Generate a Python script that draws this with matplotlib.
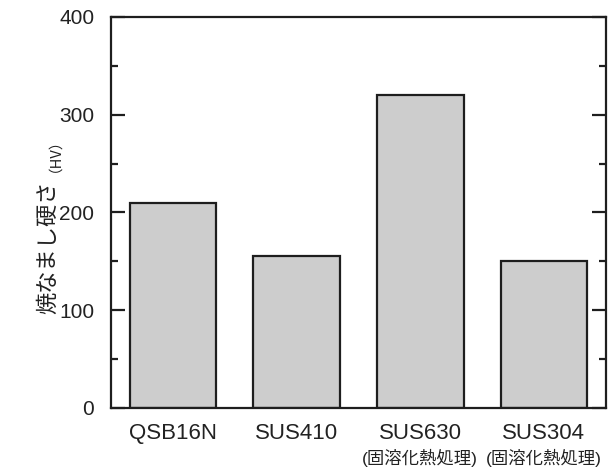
import matplotlib
matplotlib.use("Agg")
import matplotlib.pyplot as plt
from matplotlib.ticker import MultipleLocator
from matplotlib.transforms import blended_transform_factory

plt.rcParams['font.family'] = ['Liberation Sans', 'Noto Sans CJK JP', 'DejaVu Sans']

materials = ["QSB16N", "SUS410", "SUS630", "SUS304"]
treatments = ["", "", "(固溶化熱処理)", "(固溶化熱処理)"]
hardness = [210, 155, 320, 150]

fig = plt.figure(figsize=(6.15, 4.7), dpi=100)
ax = fig.add_axes([0.1805, 0.132, 0.8045, 0.832])

x = list(range(len(materials)))
ax.bar(x, hardness, width=0.7, color="#cdcdcd", edgecolor="#1e1e1e", linewidth=1.6, zorder=2)

ax.set_xlim(-0.5, len(materials) - 0.5)
ax.set_ylim(0, 400)
ax.yaxis.set_major_locator(MultipleLocator(100))
ax.yaxis.set_minor_locator(MultipleLocator(50))

for s in ax.spines.values():
    s.set_linewidth(1.6)
    s.set_color("#1e1e1e")

ax.tick_params(axis='y', which='both', direction='in', left=True, right=True,
               width=1.6, color="#1e1e1e")
ax.tick_params(axis='y', which='major', length=10, pad=12, labelsize=15, labelcolor="#222222")
ax.tick_params(axis='y', which='minor', length=5)
ax.tick_params(axis='x', length=0, pad=11, labelsize=16, labelcolor="#222222")

ax.set_xticks(x)
ax.set_xticklabels(materials)

trans = blended_transform_factory(ax.transData, ax.transAxes)
for xi, t in zip(x, treatments):
    if t:
        ax.text(xi, -0.128, t, transform=trans, ha='center', va='center',
                fontsize=12.5, color="#222222",
                family=['Liberation Sans', 'Noto Sans CJK JP'])

ax.text(-0.128, 0.41, "焼なまし硬さ", transform=ax.transAxes, rotation=90,
        ha='center', va='center', fontsize=16, color="#222222",
        family=['Noto Sans CJK JP'])
ax.text(-0.128, 0.665, "（HV）", transform=ax.transAxes, rotation=90,
        ha='center', va='center', fontsize=10.5, color="#222222",
        family=['Noto Sans CJK JP'])

fig.savefig("out.png", dpi=100)
